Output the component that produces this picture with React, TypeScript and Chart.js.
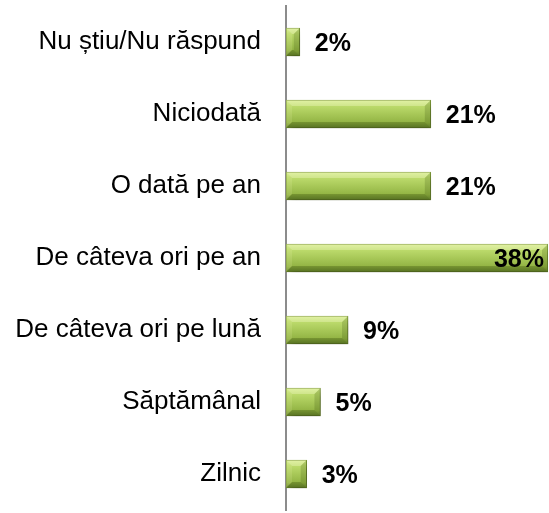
import React, { useEffect, useRef } from "react";
import { Chart, registerables } from "chart.js";

Chart.register(...registerables);

const categories = [
  "Nu știu/Nu răspund",
  "Niciodată",
  "O dată pe an",
  "De câteva ori pe an",
  "De câteva ori pe lună",
  "Săptămânal",
  "Zilnic",
];
const values = [2, 21, 21, 38, 9, 5, 3];

const FONT = "Arial, 'Liberation Sans', sans-serif";
const BAR_H = 28;

const shadowPlugin = {
  id: "barShadow",
  beforeDatasetsDraw(chart: any) {
    const ctx = chart.ctx;
    ctx.save();
    ctx.shadowColor = "rgba(0,0,0,0.35)";
    ctx.shadowBlur = 7;
    ctx.shadowOffsetX = 3;
    ctx.shadowOffsetY = 5;
  },
  afterDatasetsDraw(chart: any) {
    chart.ctx.restore();
  },
};

const bevelPlugin = {
  id: "bevel",
  afterDatasetsDraw(chart: any) {
    const ctx = chart.ctx;
    const meta = chart.getDatasetMeta(0);
    ctx.save();
    meta.data.forEach((el: any) => {
      const l = Math.min(el.base, el.x);
      const r = Math.max(el.base, el.x);
      const t = el.y - el.height / 2;
      const btm = el.y + el.height / 2;
      const b = Math.min(6, (r - l) / 2, el.height / 2);
      const poly = (pts: number[][], fill: string) => {
        ctx.beginPath();
        ctx.moveTo(pts[0][0], pts[0][1]);
        for (let k = 1; k < pts.length; k++) ctx.lineTo(pts[k][0], pts[k][1]);
        ctx.closePath();
        ctx.fillStyle = fill;
        ctx.fill();
      };
      // top highlight
      poly([[l, t], [r, t], [r - b, t + b], [l + b, t + b]], "rgba(255,255,220,0.30)");
      // bottom shade
      poly([[l, btm], [r, btm], [r - b, btm - b], [l + b, btm - b]], "rgba(40,60,0,0.28)");
      // left end
      poly([[l, t], [l + b, t + b], [l + b, btm - b], [l, btm]], "rgba(255,255,200,0.12)");
      // right end
      poly([[r, t], [r - b, t + b], [r - b, btm - b], [r, btm]], "rgba(40,60,0,0.18)");
    });
    ctx.restore();
  },
};

const labelPlugin = {
  id: "valueLabels",
  afterDatasetsDraw(chart: any) {
    const ctx = chart.ctx;
    const meta = chart.getDatasetMeta(0);
    ctx.save();
    ctx.font = `bold 25px ${FONT}`;
    ctx.fillStyle = "#000";
    ctx.textBaseline = "middle";
    meta.data.forEach((el: any, i: number) => {
      const text = `${values[i]}%`;
      const w = ctx.measureText(text).width;
      const end = el.x;
      if (end + 15 + w > chart.chartArea.right) {
        ctx.textAlign = "right";
        ctx.fillText(text, end - 4, el.y + 2);
      } else {
        ctx.textAlign = "left";
        ctx.fillText(text, end + 15, el.y + 2);
      }
    });
    ctx.restore();
  },
};

export default function App() {
  const ref = useRef<HTMLCanvasElement>(null);
  useEffect(() => {
    if (!ref.current) return;
    const chart = new Chart(ref.current, {
      type: "bar",
      data: {
        labels: categories,
        datasets: [
          {
            data: values,
            backgroundColor: (c: any) => {
              const ch = c.chart;
              const ys = ch.scales?.y;
              if (!ys || c.dataIndex === undefined) return "#9bbb59";
              const y = ys.getPixelForValue(c.dataIndex);
              if (!Number.isFinite(y)) return "#9bbb59";
              const g = ch.ctx.createLinearGradient(0, y - BAR_H / 2, 0, y + BAR_H / 2);
              g.addColorStop(0, "#d4ec8e");
              g.addColorStop(0.2, "#bddb6c");
              g.addColorStop(0.5, "#a8c858");
              g.addColorStop(0.8, "#93b444");
              g.addColorStop(1, "#6a8630");
              return g;
            },
            borderColor: "#7d9a36",
            borderWidth: 1,
            borderSkipped: false,
            barThickness: BAR_H,
          },
        ],
      },
      options: {
        indexAxis: "y",
        animation: false,
        responsive: true,
        maintainAspectRatio: false,
        layout: { padding: { top: 6, bottom: 3, right: 1, left: 0 } },
        plugins: { legend: { display: false }, tooltip: { enabled: false } },
        scales: {
          x: { display: false, min: 0, max: 38 },
          y: {
            afterFit: (s: any) => {
              s.width = 286;
              s.paddingTop = 0;
              s.paddingBottom = 0;
            },
            grid: { display: false, drawTicks: false },
            border: { display: true, color: "#8c8c8c", width: 2 },
            ticks: {
              padding: 25,
              color: "#000",
              font: { family: FONT, size: 26 },
            },
          },
        },
      },
      plugins: [shadowPlugin, bevelPlugin, labelPlugin],
    });
    return () => chart.destroy();
  }, []);
  return (
    <div style={{ position: "fixed", left: 0, top: 0, width: 549, height: 513, background: "#fff" }}>
      <canvas ref={ref} />
    </div>
  );
}
